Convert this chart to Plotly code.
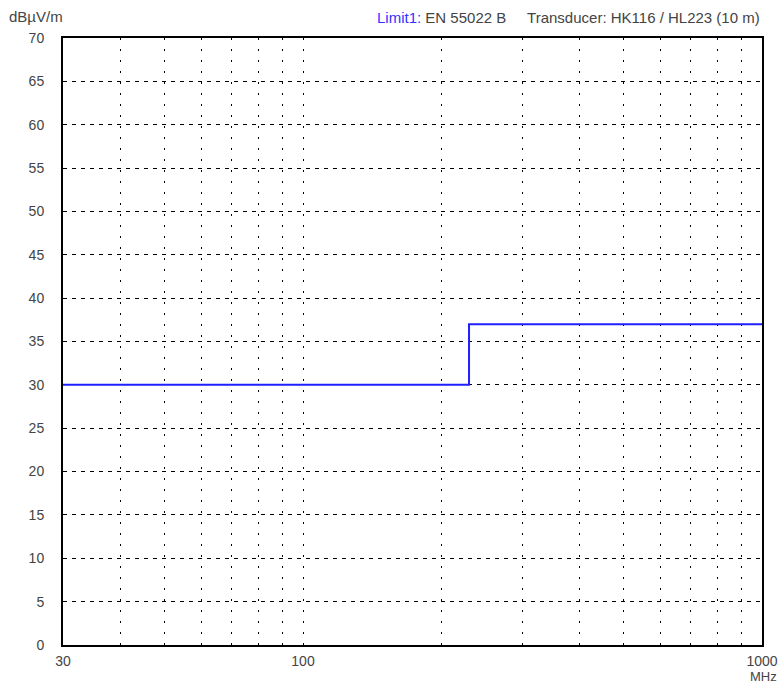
import plotly.graph_objects as go

limit_freq = [30, 230, 1000]
limit_level = [30, 37, 37]

x_grid = [30, 40, 50, 60, 70, 80, 90, 100, 200, 300, 400, 500, 600, 700, 800, 900, 1000]
x_labels = {30: "30", 100: "100", 1000: "1000"}
y_ticks = list(range(0, 75, 5))

FS = 14

fig = go.Figure()
fig.add_trace(go.Scatter(x=limit_freq, y=limit_level, mode="lines",
                         line=dict(color="#1f1fff", width=2, shape="hv"),
                         showlegend=False, hoverinfo="skip"))

fig.update_layout(
    width=779, height=683,
    margin=dict(l=63, r=17, t=38, b=38, autoexpand=False),
    paper_bgcolor="white", plot_bgcolor="white",
    font=dict(family="Liberation Sans, Arial", size=FS, color="#444"),
    xaxis=dict(type="log", range=[1.4771212547, 3.0], automargin=False,
               tickvals=x_grid, ticktext=[x_labels.get(v, "") for v in x_grid],
               showgrid=True, gridcolor="black", gridwidth=1, griddash="2px,9px",
               showline=True, linecolor="black", linewidth=2, mirror=True,
               ticks="", zeroline=False, ticklabelstandoff=2,
               tickfont=dict(size=FS, color="#444")),
    yaxis=dict(range=[0, 70], tickvals=y_ticks, automargin=False,
               showgrid=True, gridcolor="black", gridwidth=1, griddash="4px,5px",
               showline=True, linecolor="black", linewidth=2, mirror=True,
               ticks="", zeroline=False, ticklabelstandoff=14,
               tickfont=dict(size=FS, color="#444")),
    annotations=[
        dict(text="dBµV/m", xref="paper", yref="paper", x=0, y=1, xshift=-56, yshift=11,
             xanchor="left", yanchor="bottom", showarrow=False,
             font=dict(size=15, color="#444")),
        dict(text="<span style='color:#3333ff'>Limit1:</span> EN 55022 B&nbsp;&nbsp;&nbsp;&nbsp;&nbsp;Transducer: HK116 / HL223 (10 m)",
             xref="paper", yref="paper", x=1, y=1, yshift=10,
             xanchor="right", yanchor="bottom", showarrow=False,
             font=dict(size=15, color="#444")),
        dict(text="MHz", xref="paper", yref="paper", x=1, y=0, xshift=17, yshift=-22,
             xanchor="right", yanchor="top", showarrow=False,
             font=dict(size=13, color="#444")),
    ],
)

fig.write_html("out.html", config={"displayModeBar": False},
               post_script="document.body.style.margin='0';document.body.style.overflow='hidden';")
